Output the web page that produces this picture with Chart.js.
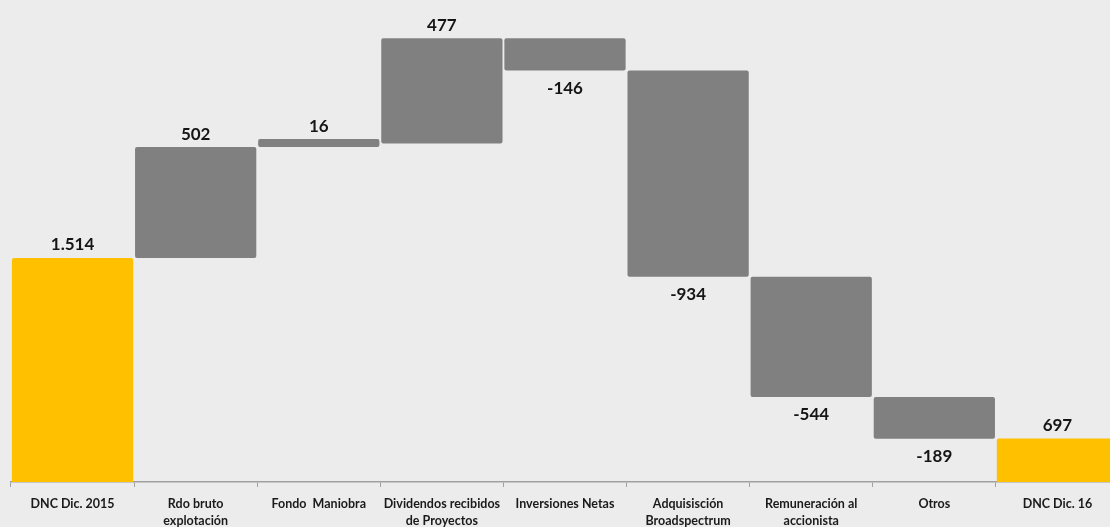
<!DOCTYPE html>
<html>
<head>
<meta charset="utf-8">
<script src="https://cdn.jsdelivr.net/npm/chart.js@4/dist/chart.umd.min.js"></script>
<style>
  html, body { margin: 0; padding: 0; background: #ebeceb; overflow: hidden; }
  #wrap { width: 1120px; height: 527px; position: relative; }
</style>
</head>
<body>
<div id="wrap"><canvas id="c"></canvas></div>
<script>
const categories = [
  'DNC Dic. 2015',
  ['Rdo bruto', 'explotación'],
  'Fondo  Maniobra',
  ['Dividendos recibidos', 'de Proyectos'],
  'Inversiones Netas',
  ['Adquisisción', 'Broadspectrum'],
  ['Remuneración al', 'accionista'],
  'Otros',
  'DNC Dic. 16'
];
const changes = [1514, 502, 16, 477, -146, -934, -544, -189, 697];
const isTotal = [true, false, false, false, false, false, false, false, true];
const valueLabels = ['1.514', '502', '16', '477', '-146', '-934', '-544', '-189', '697'];
const axisMin = 500;
const axisMax = 2650;

const totalColor = '#ffc000';
const stepColor = '#808080';

// build waterfall data from the changes
let running = 0;
const barData = changes.map((v, i) => {
  if (isTotal[i]) { running = v; return v; }
  const start = running;
  running += v;
  return [start, running];
});

const labelPlugin = {
  id: 'wfLabels',
  afterDatasetsDraw(chart) {
    const ctx = chart.ctx;
    const meta = chart.getDatasetMeta(0);
    ctx.save();
    ctx.font = 'bold 17px Lato';
    ctx.fillStyle = '#151515';
    ctx.textAlign = 'center';
    ctx.textBaseline = 'middle';
    meta.data.forEach((bar, i) => {
      const top = Math.min(bar.y, bar.base);
      const bottom = Math.max(bar.y, bar.base);
      if (changes[i] >= 0) {
        ctx.fillText(valueLabels[i], bar.x, top - 13);
      } else {
        ctx.fillText(valueLabels[i], bar.x, bottom + 18);
      }
    });
    ctx.restore();
  }
};

new Chart(document.getElementById('c'), {
  type: 'bar',
  data: {
    labels: categories,
    datasets: [{
      data: barData,
      backgroundColor: changes.map((v, i) => isTotal[i] ? totalColor : stepColor),
      borderWidth: 0,
      borderRadius: 2,
      borderSkipped: false,
      barPercentage: 0.985,
      categoryPercentage: 1,
      minBarLength: 8
    }]
  },
  options: {
    responsive: true,
    maintainAspectRatio: false,
    animation: false,
    layout: { padding: { left: 11, right: 1, top: 7, bottom: 0 } },
    plugins: { legend: { display: false }, tooltip: { enabled: false } },
    scales: {
      x: {
        offset: true,
        grid: {
          display: true,
          offset: true,
          drawOnChartArea: false,
          drawTicks: true,
          tickLength: 5,
          color: '#a0a0a0',
          lineWidth: 1
        },
        border: { display: true, color: '#a0a0a0', width: 1.5 },
        ticks: {
          color: '#1a1a1a',
          font: { family: 'Lato', weight: 'bold', size: 12.5, lineHeight: 1.4 },
          padding: 8,
          maxRotation: 0,
          autoSkip: false
        },
        afterFit(scale) { scale.height = 45; }
      },
      y: {
        display: false,
        min: axisMin,
        max: axisMax
      }
    }
  },
  plugins: [labelPlugin]
});
</script>
</body>
</html>
